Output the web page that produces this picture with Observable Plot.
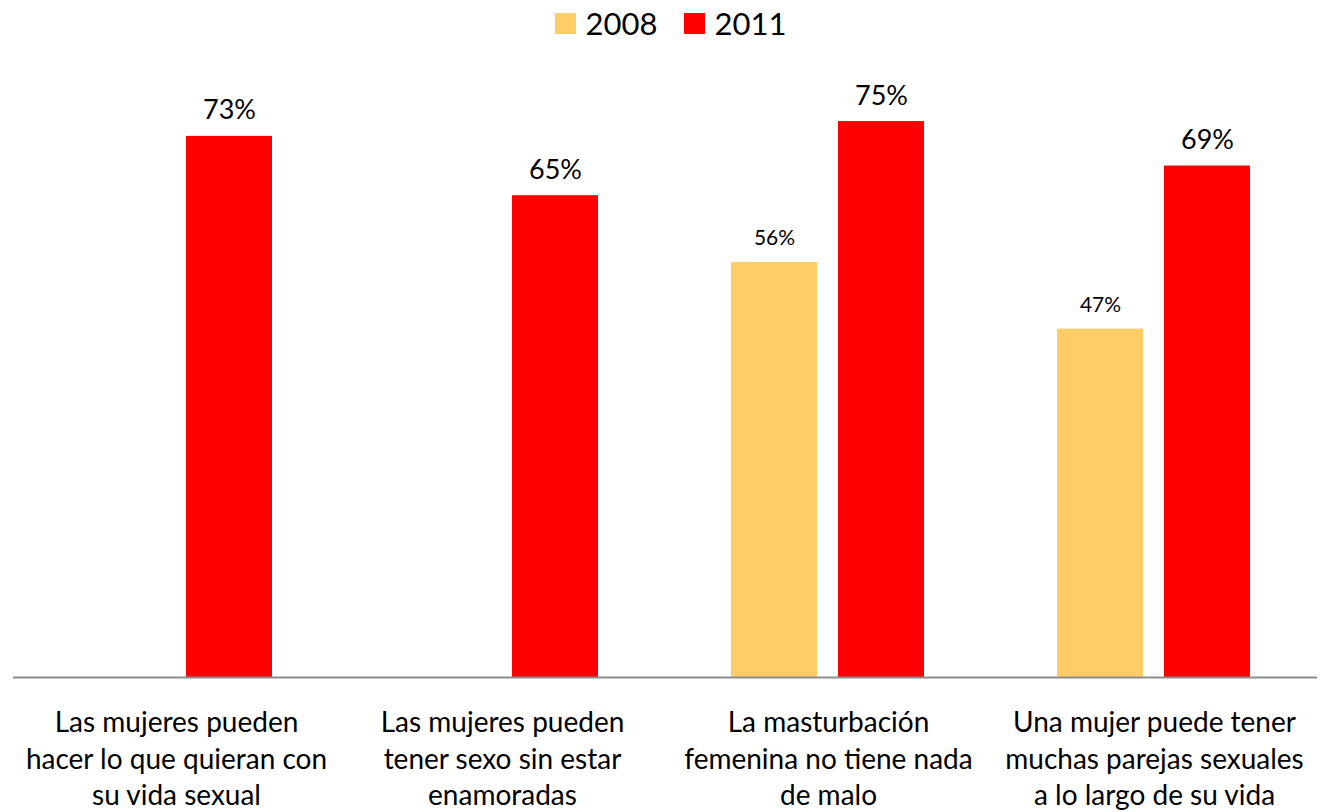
<!DOCTYPE html>
<html>
<head>
<meta charset="utf-8">
<script src="https://cdn.jsdelivr.net/npm/d3@7"></script>
<script src="https://cdn.jsdelivr.net/npm/@observablehq/plot@0.6"></script>
<style>
  html, body { margin: 0; padding: 0; background: #fff; }
  #legend { height: 46px; display: flex; justify-content: center; align-items: center; font-family: Lato, "Open Sans", sans-serif; font-size: 31px; color: #000; padding-left: 14px; box-sizing: border-box; }
  .item { display: flex; align-items: center; margin: 0 13px; }
  .sw { width: 21px; height: 21px; margin-right: 10px; }
</style>
</head>
<body>
<div id="legend"></div>
<div id="chart"></div>
<script>
const categories = [
  "Las mujeres pueden\nhacer lo que quieran con\nsu vida sexual",
  "Las mujeres pueden\ntener sexo sin estar\nenamoradas",
  "La masturbación\nfemenina no tiene nada\nde malo",
  "Una mujer puede tener\nmuchas parejas sexuales\na lo largo de su vida"
];
const years = ["2008", "2011"];
const values2008 = [null, null, 56, 47];
const values2011 = [73, 65, 75, 69];
const colors = ["#FFCC66", "#FF0000"];

const data = [];
categories.forEach((c, i) => {
  if (values2008[i] != null) data.push({cat: c, year: "2008", value: values2008[i]});
  if (values2011[i] != null) data.push({cat: c, year: "2011", value: values2011[i]});
});

const legend = document.getElementById("legend");
years.forEach((y, i) => {
  const it = document.createElement("div");
  it.className = "item";
  it.innerHTML = `<span class="sw" style="background:${colors[i]}"></span><span>${y}</span>`;
  legend.appendChild(it);
});

const chart = Plot.plot({
  width: 1327,
  height: 766,
  marginTop: 38,
  marginBottom: 135,
  marginLeft: 11,
  marginRight: 9,
  style: {fontFamily: "Lato, 'Open Sans', sans-serif", color: "#000", background: "#fff"},
  fx: {domain: categories, padding: 0},
  x: {domain: years, paddingInner: 0.194, paddingOuter: 0.611, axis: null},
  y: {domain: [0, 80], axis: null},
  color: {domain: years, range: colors},
  marks: [
    Plot.barY(data, {fx: "cat", x: "year", y: "value", fill: "year"}),
    Plot.ruleY([0], {stroke: "#8c8c8c", strokeWidth: 2}),
    Plot.text(data.filter(d => d.year === "2011"), {fx: "cat", x: "year", y: "value", text: d => d.value + "%", lineAnchor: "bottom", dy: -17, fontSize: 27, fill: "#000"}),
    Plot.text(data.filter(d => d.year === "2008"), {fx: "cat", x: "year", y: "value", text: d => d.value + "%", lineAnchor: "bottom", dy: -17, fontSize: 21, fill: "#000"}),
    Plot.axisFx({anchor: "bottom", tickSize: 0, tickPadding: 29, fontSize: 28, lineHeight: 1.3, label: null, fill: "#000"})
  ]
});
document.getElementById("chart").appendChild(chart);
</script>
</body>
</html>
